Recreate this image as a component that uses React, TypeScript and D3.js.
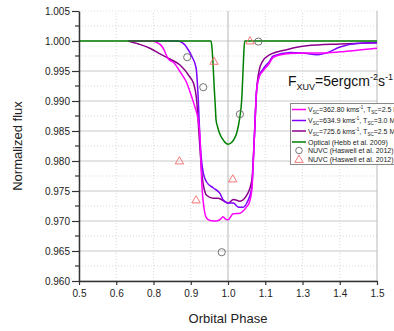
import React, { useEffect, useRef } from "react";
import * as d3 from "d3";

// Light curves: [phase, normalized flux]
const optical: [number, number][] = [
  [0.5, 1.0], [0.943, 1.0], [0.946, 0.999], [0.95, 0.996], [0.954, 0.992],
  [0.957, 0.9895], [0.96, 0.9868], [0.965, 0.9857], [0.971, 0.9847], [0.98, 0.9838],
  [0.99, 0.9831], [1.0, 0.9828], [1.01, 0.983], [1.02, 0.9836], [1.03, 0.9848],
  [1.04, 0.9874], [1.046, 0.9902], [1.05, 0.9945], [1.053, 0.998], [1.056, 1.0], [1.5, 1.0],
];

const v362: [number, number][] = [
  [0.665, 1.0], [0.74, 1.0], [0.76, 0.9998], [0.78, 0.999], [0.8, 0.997], [0.82, 0.9963],
  [0.84, 0.9948], [0.86, 0.9932], [0.878, 0.9907], [0.889, 0.989], [0.9, 0.9868],
  [0.906, 0.984], [0.912, 0.9763], [0.92, 0.972], [0.928, 0.9705], [0.94, 0.9701],
  [0.96, 0.97], [0.975, 0.9703], [0.983, 0.9707], [0.992, 0.9703], [1.0, 0.9702],
  [1.017, 0.9712], [1.04, 0.9713], [1.063, 0.9724], [1.071, 0.973], [1.08, 0.9752],
  [1.088, 0.9835], [1.096, 0.9918], [1.105, 0.9941], [1.116, 0.9949], [1.139, 0.9963],
  [1.152, 0.9973], [1.208, 0.9979], [1.26, 0.998], [1.32, 0.998], [1.376, 0.9982],
  [1.44, 0.9985], [1.5, 0.9988],
];

const v634: [number, number][] = [
  [0.665, 1.0], [0.83, 1.0], [0.85, 0.9996], [0.867, 0.9985], [0.88, 0.9973],
  [0.893, 0.9955], [0.9, 0.9905], [0.906, 0.9835], [0.917, 0.978], [0.928, 0.9765],
  [0.951, 0.9755], [0.973, 0.9746], [0.984, 0.9735], [1.001, 0.973], [1.018, 0.973],
  [1.035, 0.9723], [1.051, 0.9723], [1.063, 0.973], [1.08, 0.9757], [1.088, 0.9835],
  [1.096, 0.9918], [1.105, 0.9942], [1.116, 0.9952], [1.139, 0.9966], [1.152, 0.9975],
  [1.208, 0.9981], [1.25, 0.998], [1.3, 0.9977], [1.33, 0.998], [1.376, 0.999],
  [1.432, 0.9996], [1.5, 0.9997],
];

const v725: [number, number][] = [
  [0.665, 1.0], [0.7, 0.9995], [0.738, 0.9988], [0.77, 0.9979], [0.805, 0.997],
  [0.839, 0.996], [0.872, 0.994], [0.884, 0.993], [0.895, 0.99], [0.9, 0.9865],
  [0.906, 0.982], [0.912, 0.978], [0.923, 0.9748], [0.928, 0.9743], [0.951, 0.9738],
  [0.967, 0.9738], [0.99, 0.9732], [1.001, 0.973], [1.018, 0.9736], [1.04, 0.9733],
  [1.063, 0.9743], [1.08, 0.9768], [1.088, 0.9835], [1.096, 0.9918], [1.105, 0.9952],
  [1.116, 0.9966], [1.139, 0.9977], [1.2, 0.9986], [1.264, 0.9992], [1.376, 0.9995],
  [1.5, 0.9997],
];

const nuvCircles: [number, number][] = [
  [0.863, 0.9973], [0.917, 0.9923], [0.979, 0.9648], [1.04, 0.9878], [1.102, 0.9999],
];
const nuvTriangles: [number, number][] = [
  [0.837, 0.98], [0.893, 0.9735], [0.953, 0.9966], [1.016, 0.977], [1.074, 1.0],
];

const xTicks = [0.5, 0.625, 0.75, 0.875, 1.0, 1.125, 1.25, 1.375, 1.5];
const yTicks = [0.96, 0.965, 0.97, 0.975, 0.98, 0.985, 0.99, 0.995, 1.0, 1.005];

const FONT = "'Liberation Sans', Arial, sans-serif";

export default function App() {
  const ref = useRef<SVGSVGElement>(null);

  useEffect(() => {
    const svg = d3.select(ref.current);
    svg.selectAll("*").remove();

    const x = d3.scaleLinear().domain([0.5, 1.5]).range([79, 377]);
    const y = d3.scaleLinear().domain([0.96, 1.005]).range([281, 11]);

    const grid = svg.append("g");
    // minor horizontal grid (dotted)
    yTicks.slice(0, -1).forEach((t) => {
      grid.append("line")
        .attr("x1", x(0.5)).attr("x2", x(1.5))
        .attr("y1", y(t + 0.0025)).attr("y2", y(t + 0.0025))
        .attr("stroke", "#d8d8d8").attr("stroke-dasharray", "1,2");
    });
    // major horizontal grid
    yTicks.forEach((t) => {
      grid.append("line")
        .attr("x1", x(0.5)).attr("x2", x(1.5))
        .attr("y1", y(t)).attr("y2", y(t))
        .attr("stroke", t === 1.005 ? "#e0e0e0" : "#c8c8c8")
        .attr("stroke-dasharray", t === 1.005 ? "1,2" : null);
    });
    // vertical grid
    xTicks.forEach((t) => {
      const solid = t === 1.0 || t === 1.5;
      grid.append("line")
        .attr("x1", x(t)).attr("x2", x(t))
        .attr("y1", y(0.96)).attr("y2", y(1.005))
        .attr("stroke", solid ? "#b8b8b8" : "#d8d8d8")
        .attr("stroke-dasharray", solid ? null : "1,2");
    });

    const line = d3.line<[number, number]>()
      .x((d) => x(d[0]))
      .y((d) => y(d[1]))
      .curve(d3.curveMonotoneX);

    const series: [[number, number][], string][] = [
      [v725, "#8b008b"],
      [v634, "#8000ff"],
      [v362, "#ff00ff"],
      [optical, "#008000"],
    ];
    series.forEach(([data, color]) => {
      svg.append("path")
        .attr("d", line(data))
        .attr("fill", "none")
        .attr("stroke", color)
        .attr("stroke-width", 1.5);
    });

    const tri = d3.symbol().type(d3.symbolTriangle).size(30);
    svg.append("g").selectAll("path")
      .data(nuvTriangles).enter().append("path")
      .attr("d", tri)
      .attr("transform", (d) => `translate(${x(d[0])},${y(d[1]) + 0.5})`)
      .attr("fill", "none").attr("stroke", "#f26a6a").attr("stroke-width", 0.9);

    svg.append("g").selectAll("circle")
      .data(nuvCircles).enter().append("circle")
      .attr("cx", (d) => x(d[0])).attr("cy", (d) => y(d[1]))
      .attr("r", 3.6)
      .attr("fill", "none").attr("stroke", "#666").attr("stroke-width", 0.9);

    // axes
    const yAxis = d3.axisLeft(y).tickValues(yTicks).tickSize(7).tickSizeOuter(0)
      .tickFormat(d3.format(".3f"));
    const ya = svg.append("g").attr("transform", `translate(${x(0.5)},0)`).call(yAxis);
    ya.select(".domain").attr("stroke", "#333").attr("stroke-width", 1.5);
    ya.selectAll(".tick line").attr("stroke", "#333").attr("stroke-width", 1.2);
    ya.selectAll("text").attr("font-family", FONT).attr("font-size", 10).attr("fill", "#222").attr("x", -9);
    yTicks.slice(0, -1).forEach((t) => {
      ya.append("line").attr("x1", -4).attr("x2", 0)
        .attr("y1", y(t + 0.0025)).attr("y2", y(t + 0.0025))
        .attr("stroke", "#333").attr("stroke-width", 1.2);
    });

    const xAxis = d3.axisBottom(x).tickValues(xTicks).tickSize(4).tickSizeOuter(0)
      .tickFormat(d3.format(".1f"));
    const xa = svg.append("g").attr("transform", `translate(0,${y(0.96)})`).call(xAxis);
    xa.select(".domain").attr("stroke", "#333").attr("stroke-width", 1.5);
    xa.selectAll(".tick line").attr("stroke", "#333").attr("stroke-width", 1.2);
    xa.selectAll("text").attr("font-family", FONT).attr("font-size", 10).attr("fill", "#222").attr("y", 9);

    svg.append("text")
      .attr("transform", `translate(22,${(y(0.96) + y(1.005)) / 2}) rotate(-90)`)
      .attr("text-anchor", "middle")
      .attr("font-family", FONT).attr("font-size", 13).attr("fill", "#222")
      .text("Normalized flux");
    svg.append("text")
      .attr("x", x(1.0)).attr("y", 323)
      .attr("text-anchor", "middle")
      .attr("font-family", FONT).attr("font-size", 13).attr("fill", "#222")
      .text("Orbital Phase");

    // F_XUV annotation
    const ft = svg.append("text").attr("x", 288).attr("y", 86)
      .attr("font-family", FONT).attr("font-size", 14).attr("fill", "#111");
    ft.append("tspan").text("F");
    ft.append("tspan").attr("font-size", 9).attr("dy", 4).text("XUV");
    ft.append("tspan").attr("dy", -4).text("=5ergcm");
    ft.append("tspan").attr("font-size", 9).attr("dy", -6).text("-2");
    ft.append("tspan").attr("dy", 6).text("s");
    ft.append("tspan").attr("font-size", 9).attr("dy", -6).text("-1");

    // legend
    const lg = svg.append("g");
    lg.append("rect").attr("x", 290.5).attr("y", 103.5).attr("width", 110).attr("height", 61)
      .attr("fill", "#fff").attr("stroke", "#888").attr("stroke-width", 1);
    const modelRows = [
      { c: "#ff00ff", v: "362.80", t: "2.5 MK", yy: 109.5 },
      { c: "#8000ff", v: "634.9", t: "3.0 MK", yy: 120.5 },
      { c: "#8b008b", v: "725.6", t: "2.5 MK", yy: 131 },
    ];
    modelRows.forEach((r) => {
      lg.append("line").attr("x1", 292).attr("x2", 306).attr("y1", r.yy).attr("y2", r.yy)
        .attr("stroke", r.c).attr("stroke-width", 1.5);
      const tx = lg.append("text").attr("x", 308).attr("y", r.yy + 2.5)
        .attr("font-family", FONT).attr("font-size", 7).attr("fill", "#222");
      tx.append("tspan").text("V");
      tx.append("tspan").attr("font-size", 4.5).attr("dy", 2).text("SC");
      tx.append("tspan").attr("dy", -2).text(`=${r.v} kms`);
      tx.append("tspan").attr("font-size", 4.5).attr("dy", -3).text("-1");
      tx.append("tspan").attr("dy", 3).text(", T");
      tx.append("tspan").attr("font-size", 4.5).attr("dy", 2).text("SC");
      tx.append("tspan").attr("dy", -2).text(`=${r.t}`);
    });
    lg.append("line").attr("x1", 292).attr("x2", 306).attr("y1", 142).attr("y2", 142)
      .attr("stroke", "#008000").attr("stroke-width", 1.5);
    lg.append("circle").attr("cx", 299).attr("cy", 150.5).attr("r", 3.3)
      .attr("fill", "none").attr("stroke", "#666").attr("stroke-width", 0.9);
    lg.append("path").attr("d", tri).attr("transform", "translate(299,160)")
      .attr("fill", "none").attr("stroke", "#f26a6a").attr("stroke-width", 0.9);
    [["Optical (Hebb et al. 2009)", 142], ["NUVC (Haswell et al. 2012)", 150.5], ["NUVC (Haswell et al. 2012)", 159.5]]
      .forEach(([s, yy]) => {
        lg.append("text").attr("x", 308).attr("y", (yy as number) + 2.5)
          .attr("font-family", FONT).attr("font-size", 7).attr("fill", "#222")
          .text(s as string);
      });
  }, []);

  return (
    <svg
      ref={ref}
      width={394}
      height={331}
      style={{ position: "absolute", left: 0, top: 0, background: "#fff" }}
    />
  );
}
